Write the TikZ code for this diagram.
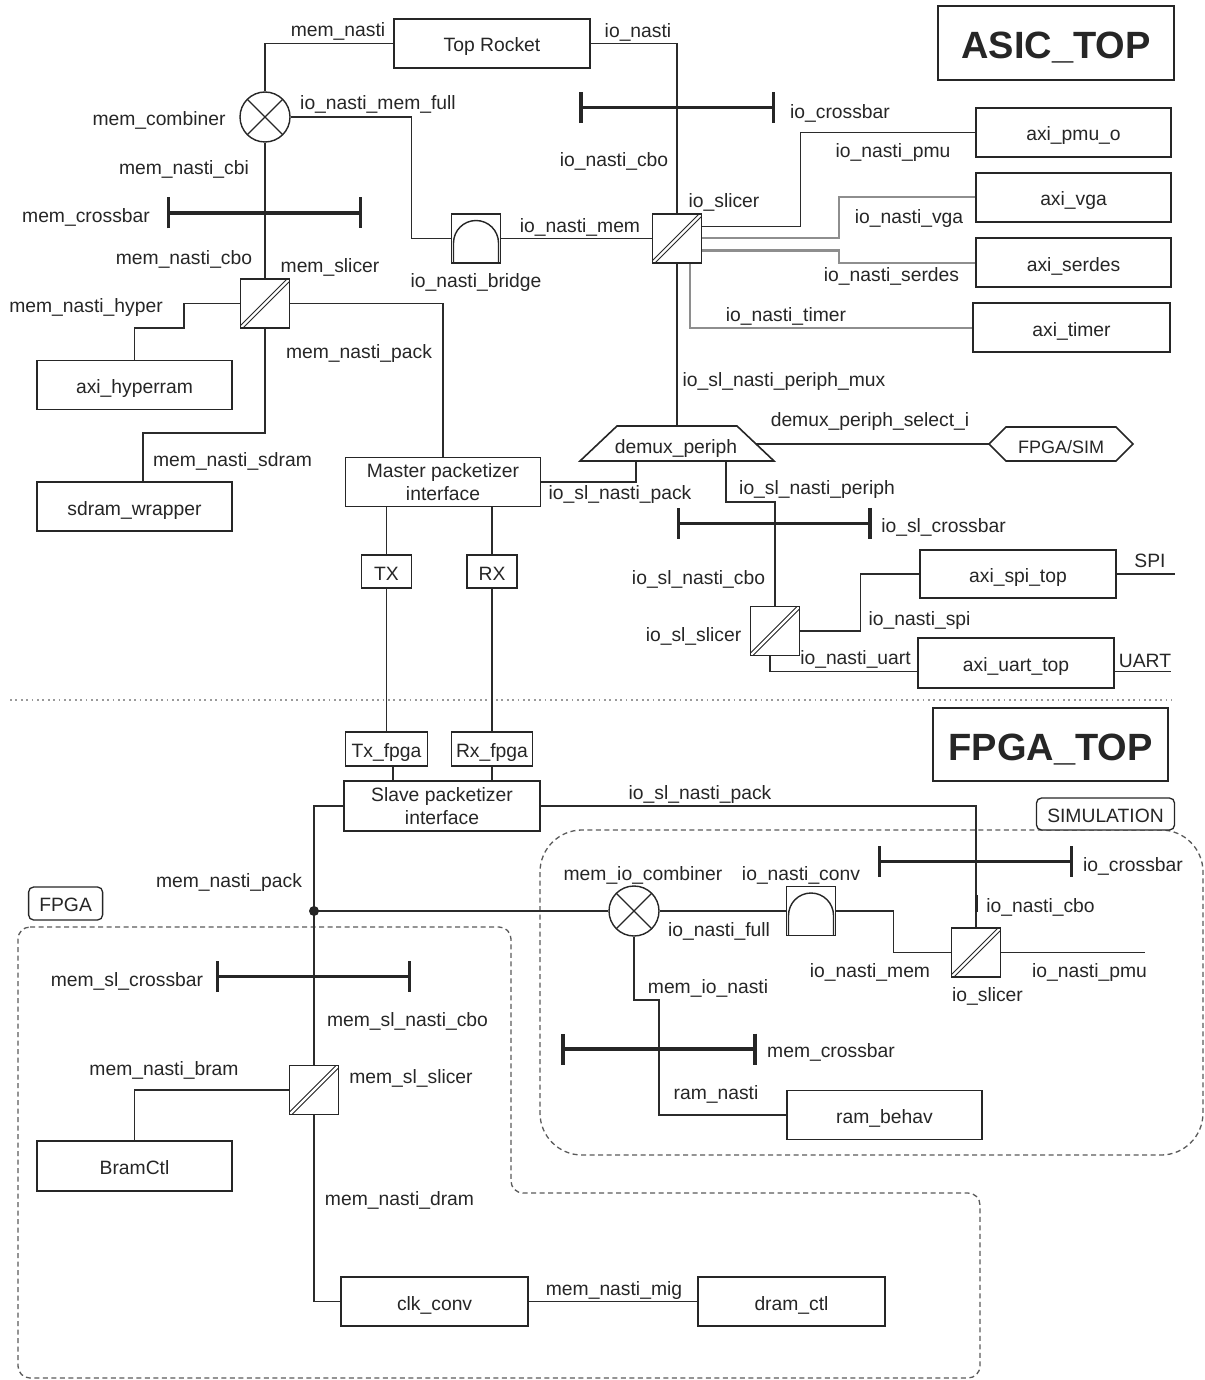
\documentclass[tikz,border=0pt]{standalone}
\usepackage{fontspec}
\setmainfont{Liberation Sans}
\usetikzlibrary{calc,arrows.meta}
\definecolor{ink}{HTML}{262626}
\definecolor{wirec}{HTML}{2B2B2B}
\definecolor{greyw}{HTML}{8E8E8E}
\definecolor{rule}{HTML}{9A9A9A}
\definecolor{frame}{HTML}{5A5A5A}
\pgfdeclarelayer{regions}
\pgfdeclarelayer{wires}
\pgfsetlayers{regions,wires,main}
\begin{document}
\begin{tikzpicture}[x=1pt,y=-1pt,
  every node/.style={font=\fontsize{19.3}{23.3}\selectfont, text=ink},
  lbl/.style={inner sep=0pt, yshift=-2pt},
  box/.style={draw=ink, fill=white, line width=1.6pt, inner sep=0pt, align=center,
    minimum width=195pt, minimum height=49pt},
  blk/.style={box, text height=17pt, text depth=0pt},
  title/.style={draw=ink, fill=white, line width=2pt, inner sep=0pt,
    minimum width=236pt, minimum height=74pt, text height=31pt, text depth=0pt,
    font=\fontsize{38}{40}\selectfont\bfseries},
  tag/.style={draw=ink, fill=white, line width=1.3pt, rounded corners=5pt, inner sep=0pt,
    minimum height=32pt, text height=16pt, text depth=0pt},
  wire/.style={draw=wirec, line width=1.5pt},
  gwire/.style={draw=greyw, line width=2pt},
  xbar/.style={draw=ink, line width=3.2pt, {Bar[width=31pt]}-{Bar[width=31pt]}},
  slicer/.style={draw=ink, fill=white, line width=1.6pt, minimum size=49pt, inner sep=0pt,
    path picture={\draw[ink, line width=1.1pt, double=white, double distance=2.2pt]
      (path picture bounding box.south west) -- (path picture bounding box.north east);}},
  combiner/.style={circle, draw=ink, fill=white, line width=1.4pt, minimum size=50pt, inner sep=0pt,
    path picture={\draw[ink, line width=1.2pt]
      (path picture bounding box.south west) -- (path picture bounding box.north east)
      (path picture bounding box.north west) -- (path picture bounding box.south east);}},
  bridge/.style={draw=ink, fill=white, line width=1.6pt, minimum size=49pt, inner sep=0pt,
    path picture={\draw[ink, line width=1.4pt]
      ([xshift=2pt]path picture bounding box.south west) -- ++(0pt,20pt)
      arc[start angle=180, end angle=0, radius=22.5pt] -- ++(0pt,-20pt);}},
  region/.style={draw=frame, line width=1.3pt, dash pattern=on 5pt off 3.5pt},
]
\useasboundingbox (0,0) rectangle (1204,1380);

% ---------------- ASIC_TOP ----------------
\node[title] (asic) at (1056,43) {ASIC\_TOP};
\node[blk, minimum width=196pt] (rocket) at (492,43.5) {Top Rocket};
\node[combiner] (memcomb) at (265,117) {};
\node[bridge] (bridge) at (476,238.5) {};
\node[slicer] (ioslc) at (677,238.5) {};
\node[slicer] (memslc) at (265,303.5) {};
\node[blk] (pmu) at (1073.5,132.5) {axi\_pmu\_o};
\node[blk] (vga) at (1073.5,197.5) {axi\_vga};
\node[blk] (serdes) at (1073.5,262.5) {axi\_serdes};
\node[blk, minimum width=197pt] (timer) at (1071.5,327.5) {axi\_timer};
\node[blk] (hyper) at (134.5,385) {axi\_hyperram};
\node[blk] (sdram) at (134.5,506.5) {sdram\_wrapper};
\node[box] (master) at (443,482) {Master packetizer\\interface};
\node[blk, minimum width=50pt, minimum height=33pt] (tx) at (386.5,571.5) {TX};
\node[blk, minimum width=50pt, minimum height=33pt] (rx) at (492,571.5) {RX};

% demultiplexer (trapezoid) and select input (hexagon)
\filldraw[draw=ink, fill=white, line width=1.6pt]
  (580,461) -- (617,426) -- (737,426) -- (774,461) -- cycle;
\node[lbl] (demux) at (676,447) {demux\_periph};
\coordinate (dmxN) at (677,426);
\coordinate (dmxA) at (636,461);
\coordinate (dmxB) at (726,461);
\coordinate (dmxR) at (756,444);
\filldraw[draw=ink, fill=white, line width=1.6pt]
  (989,444) -- (1006,427) -- (1116,427) -- (1133,444) -- (1116,461) -- (1006,461) -- cycle;
\node[lbl, font=\fontsize{18}{20}\selectfont] (fpgasim) at (1061,445) {FPGA/SIM};
\coordinate (fsW) at (989,444);

\node[slicer] (slslc) at (775,631) {};
\node[blk, minimum width=196pt, minimum height=48pt] (spi) at (1018,574) {axi\_spi\_top};
\node[blk, minimum width=196pt, minimum height=50pt] (uart) at (1016,663) {axi\_uart\_top};

% ---------------- FPGA_TOP ----------------
\node[title, minimum width=235pt, minimum height=73pt] (fpgatop) at (1050.5,744.5) {FPGA\_TOP};
\node[blk, minimum width=82pt, minimum height=34pt] (txf) at (386.5,749) {Tx\_fpga};
\node[blk, minimum width=81pt, minimum height=34pt] (rxf) at (492,749) {Rx\_fpga};
\node[box, minimum width=196pt, minimum height=50pt] (slave) at (442,806) {Slave packetizer\\interface};
\node[tag, minimum width=138pt] (simtag) at (1105.5,814) {SIMULATION};
\node[tag, minimum width=74pt, minimum height=33pt] (fpgatag) at (65.6,903.5) {FPGA};
\node[combiner] (miocomb) at (634,911) {};
\node[bridge] (conv) at (811,911) {};
\node[slicer] (sioslc) at (976,952.5) {};
\node[blk] (rambehav) at (884.5,1115) {ram\_behav};
\node[slicer] (memslslc) at (314,1090) {};
\node[blk, minimum height=50pt] (bram) at (134.5,1166) {BramCtl};
\node[blk, minimum width=187pt] (clkconv) at (434.6,1301.5) {clk\_conv};
\node[blk, minimum width=187pt] (dramctl) at (791.5,1301.5) {dram\_ctl};
\coordinate (jn) at (314,911);
\fill[ink] (jn) circle[radius=5pt];

% ---------------- labels ----------------
\node[lbl] (t01) at (338,29.5) {mem\_nasti};
\node[lbl] (t02) at (638,30) {io\_nasti};
\node[lbl] (t03) at (378,102) {io\_nasti\_mem\_full};
\node[lbl] (t04) at (159,118.5) {mem\_combiner};
\node[lbl] (t05) at (840,111) {io\_crossbar};
\node[lbl] (t06) at (614,159) {io\_nasti\_cbo};
\node[lbl] (t07) at (893,151) {io\_nasti\_pmu};
\node[lbl] (t08) at (184,167.5) {mem\_nasti\_cbi};
\node[lbl] (t09) at (724,200.5) {io\_slicer};
\node[lbl] (t10) at (909,216.5) {io\_nasti\_vga};
\node[lbl] (t11) at (86,215) {mem\_crossbar};
\node[lbl] (t12) at (580,225) {io\_nasti\_mem};
\node[lbl] (t13) at (184,257) {mem\_nasti\_cbo};
\node[lbl] (t14) at (330,265.5) {mem\_slicer};
\node[lbl] (t15) at (891.5,274) {io\_nasti\_serdes};
\node[lbl] (t16) at (476,281) {io\_nasti\_bridge};
\node[lbl] (t17) at (86,305.5) {mem\_nasti\_hyper};
\node[lbl] (t18) at (786,314) {io\_nasti\_timer};
\node[lbl] (t19) at (359,351.5) {mem\_nasti\_pack};
\node[lbl] (t20) at (784,379.5) {io\_sl\_nasti\_periph\_mux};
\node[lbl] (t21) at (870,419.5) {demux\_periph\_select\_i};
\node[lbl] (t22) at (232.5,459) {mem\_nasti\_sdram};
\node[lbl] (t23) at (817,487.5) {io\_sl\_nasti\_periph};
\node[lbl] (t24) at (620,492.5) {io\_sl\_nasti\_pack};
\node[lbl] (t25) at (943.5,525.5) {io\_sl\_crossbar};
\node[lbl] (t26) at (1150,558.5) {SPI};
\node[lbl] (t27) at (698.5,577.5) {io\_sl\_nasti\_cbo};
\node[lbl] (t28) at (919.5,619) {io\_nasti\_spi};
\node[lbl] (t29) at (693.5,634) {io\_sl\_slicer};
\node[lbl] (t30) at (855.5,657.5) {io\_nasti\_uart};
\node[lbl] (t31) at (1145,658.5) {UART};
\node[lbl] (t32) at (700,792.5) {io\_sl\_nasti\_pack};
\node[lbl] (t33) at (643,873.5) {mem\_io\_combiner};
\node[lbl] (t34) at (801,873.5) {io\_nasti\_conv};
\node[lbl] (t35) at (1133,864.5) {io\_crossbar};
\node[lbl] (t36) at (229,880) {mem\_nasti\_pack};
\node[lbl] (t37) at (1040.5,905.5) {io\_nasti\_cbo};
\node[lbl] (t38) at (719,929) {io\_nasti\_full};
\node[lbl] (t39) at (870,970.5) {io\_nasti\_mem};
\node[lbl] (t40) at (1089.5,970.5) {io\_nasti\_pmu};
\node[lbl] (t41) at (127,979) {mem\_sl\_crossbar};
\node[lbl] (t42) at (708,986.5) {mem\_io\_nasti};
\node[lbl] (t43) at (987.5,994.5) {io\_slicer};
\node[lbl] (t44) at (407.5,1019) {mem\_sl\_nasti\_cbo};
\node[lbl] (t45) at (831,1050.5) {mem\_crossbar};
\node[lbl] (t46) at (164,1068) {mem\_nasti\_bram};
\node[lbl] (t47) at (411,1076) {mem\_sl\_slicer};
\node[lbl] (t48) at (716,1092.5) {ram\_nasti};
\node[lbl] (t49) at (399.5,1198) {mem\_nasti\_dram};
\node[lbl] (t50) at (614,1288) {mem\_nasti\_mig};

% ---------------- connections ----------------
\begin{pgfonlayer}{wires}
  \draw[wire] (rocket.west) -| (memcomb.north);
  \draw[wire] (rocket.east) -| (ioslc.north);
  \draw[wire] (ioslc.south) -- (dmxN);
  \draw[wire] (memcomb.east) -- ++(121,0) |- (bridge.west);
  \draw[wire] (bridge.east) -- (ioslc.west);
  \draw[wire] (memcomb.south) -- (memslc.north);
  \draw[wire] (memslc.west) -| (184,328) -| (hyper.north);
  \draw[wire] (memslc.east) -| (master.north);
  \draw[wire] (memslc.south) |- (143,433) -- ($(sdram.north)+(8.5,0)$);
  \draw[wire] (master.east) -| (dmxA);
  \draw[wire] (dmxB) |- (775,502) -- (slslc.north);
  \draw[wire] (dmxR) -- (fsW);
  \draw[wire] ($(ioslc.east)+(0,-12)$) -- (800.5,226.5) |- (pmu.west);
  \draw[gwire] (ioslc.east) -- (838.6,238.5) |- (vga.west);
  \draw[gwire] ($(ioslc.east)+(0,12)$) -- (838.6,250.5) |- (serdes.west);
  \draw[gwire] ($(ioslc.south)+(12.5,0)$) |- (timer.west);
  \draw[wire] (slslc.east) -- (860.6,631) |- (spi.west);
  \draw[wire] ($(slslc.south)+(-5,0)$) |- ($(uart.west)+(0,8.7)$);
  \draw[wire] (spi.east) -- ++(58,0);
  \draw[wire] ($(uart.east)+(0,8.7)$) -- ++(56,0);
  \draw[wire] (tx.north |- master.south) -- (tx.north);
  \draw[wire] (rx.north |- master.south) -- (rx.north);
  \draw[wire] (tx.south) -- (txf.north);
  \draw[wire] (rx.south) -- (rxf.north);
  \coordinate (txo) at ($(txf.south)+(6.5,0)$);
  \draw[wire] (txo) -- (txo |- slave.north);
  \draw[wire] (rxf.south) -- (rxf.south |- slave.north);
  \draw[wire] (slave.west) -| (memslslc.north);
  \draw[wire] (jn) -- (miocomb.west);
  \draw[wire] (slave.east) -| (sioslc.north);
  \draw[draw=ink, line width=3pt] (976,895) -- (976,912);
  \draw[wire] (miocomb.east) -- (conv.west);
  \draw[wire] (conv.east) -- ++(57,0) |- (sioslc.west);
  \draw[wire] (sioslc.east) -- ++(144,0);
  \draw[wire] (miocomb.south) |- (659,1000) |- (rambehav.west);
  \draw[wire] (memslslc.west) -| (bram.north);
  \draw[wire] (memslslc.south) |- (clkconv.west);
  \draw[wire] (clkconv.east) -- (dramctl.west);
  % crossbars
  \draw[xbar] (579.4,107.7) -- (775,107.7);
  \draw[xbar] (167,213) -- (362,213);
  \draw[xbar] (677,523.3) -- (871.6,523.3);
  \draw[xbar] (878,861.7) -- (1072.8,861.7);
  \draw[xbar] (561.4,1049) -- (756.5,1049);
  \draw[xbar] (215.5,976.7) -- (411.4,976.7);
\end{pgfonlayer}

% ---------------- partitions ----------------
\begin{pgfonlayer}{regions}
  \draw[rule, line width=1.5pt, dash pattern=on 1.8pt off 3.6pt] (10,700) -- (1172,700);
  \draw[region, rounded corners=12pt]
    (18,927) -- (511,927) -- (511,1193) -- (980,1193) -- (980,1378) -- (18,1378) -- cycle;
  \draw[region, rounded corners=42pt] (540,830) rectangle (1203,1155);
\end{pgfonlayer}
\end{tikzpicture}
\end{document}
